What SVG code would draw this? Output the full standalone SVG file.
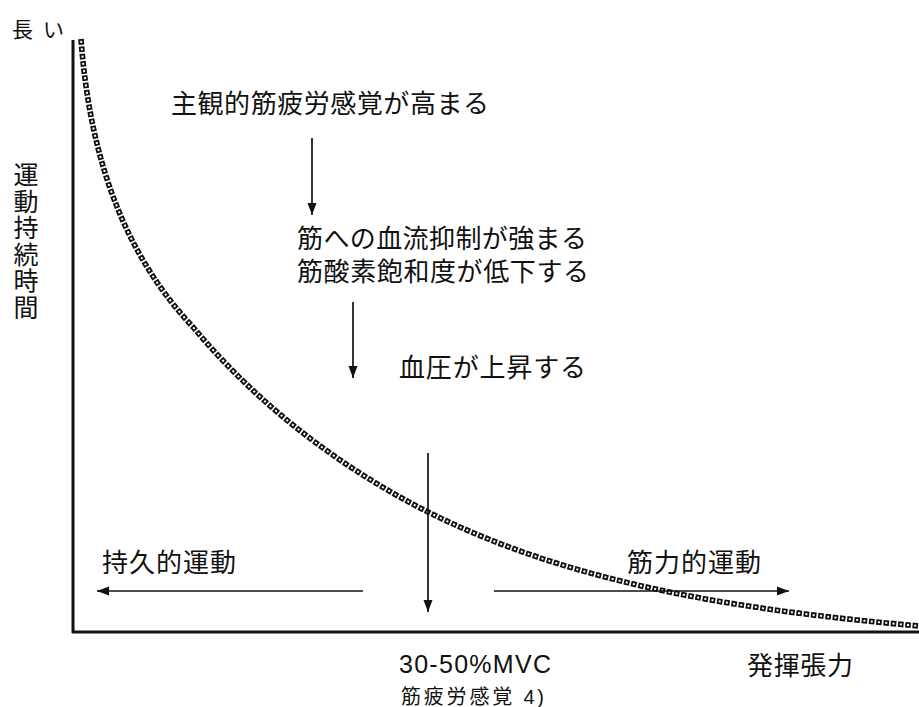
<svg xmlns="http://www.w3.org/2000/svg" width="919" height="707" viewBox="0 0 919 707">
<style>
.t{font-family:"Liberation Sans","Noto Sans CJK JP",sans-serif;font-size:26px;fill:#111}
.ax{stroke:#111;stroke-width:3;fill:none}
.ar{stroke:#111;stroke-width:1.7;fill:none;marker-end:url(#ah)}
.cd{fill:none;stroke:#111;stroke-width:5.6;stroke-dasharray:5.6 1.7}
.cw{fill:none;stroke:#fff;stroke-width:2;stroke-dasharray:2 5.3;stroke-dashoffset:-1.8}
</style>
<defs>
<marker id="ah" markerUnits="userSpaceOnUse" markerWidth="13" markerHeight="11" refX="12" refY="5.5" orient="auto">
<path d="M0,1 L12,5.5 L0,10 Z" fill="#111"/>
</marker>
<path id="curve" d="M81,39 C90,160 125,255 193,327 C257,404 339,467 428,512 C578,587 752,611 919,626"/>
</defs>
<g id="axes">
<line class="ax" x1="73" y1="40" x2="73" y2="633"/>
<line class="ax" x1="72" y1="632" x2="919" y2="632"/>
</g>
<g id="curve-line">
<use href="#curve" class="cd"/>
<use href="#curve" class="cw"/>
</g>
<g id="connectors">
<line class="ar" x1="312" y1="138" x2="312" y2="215"/>
<line class="ar" x1="353" y1="302" x2="353" y2="378"/>
<line class="ar" x1="428" y1="453" x2="428" y2="612"/>
<line class="ar" x1="363" y1="591" x2="97" y2="591"/>
<line class="ar" x1="494" y1="591" x2="789" y2="591"/>
</g>
<g id="label-long"><text class="t" x="12" y="37" style="font-size:21px" textLength="52" lengthAdjust="spacing">長い</text></g>
<g id="label-yaxis"><text class="t" x="24" y="162" style="writing-mode:vertical-rl;font-size:25px;letter-spacing:1.6px">運動持続時間</text></g>
<g id="node-fatigue"><text class="t" x="171" y="113" textLength="318" lengthAdjust="spacing">主観的筋疲労感覚が高まる</text></g>
<g id="node-blood"><text class="t" x="297" y="248" textLength="290" lengthAdjust="spacing">筋への血流抑制が強まる</text>
<text class="t" x="297" y="281" textLength="292" lengthAdjust="spacing">筋酸素飽和度が低下する</text></g>
<g id="node-bp"><text class="t" x="399" y="377" textLength="187" lengthAdjust="spacing">血圧が上昇する</text></g>
<g id="label-endurance"><text class="t" x="102" y="572" textLength="134" lengthAdjust="spacing">持久的運動</text></g>
<g id="label-strength"><text class="t" x="627" y="572" textLength="134" lengthAdjust="spacing">筋力的運動</text></g>
<g id="label-mvc"><text class="t" x="399" y="673" style="font-size:25px" textLength="152" lengthAdjust="spacing">30-50%MVC</text></g>
<g id="label-ref"><text class="t" x="401" y="704" style="font-size:20px" textLength="143" lengthAdjust="spacing">筋疲労感覚 4)</text></g>
<g id="label-xaxis"><text class="t" x="747" y="675" textLength="106" lengthAdjust="spacing">発揮張力</text></g>
</svg>
